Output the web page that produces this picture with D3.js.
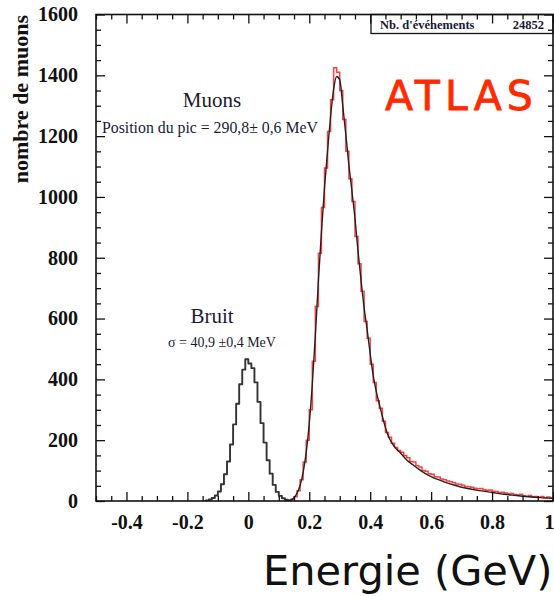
<!DOCTYPE html>
<html>
<head>
<meta charset="utf-8">
<script src="https://cdn.jsdelivr.net/npm/d3@7"></script>
<style>
  html, body { margin: 0; padding: 0; background: #fff; }
  svg { display: block; }
</style>
</head>
<body>
<svg id="chart" width="554" height="596"></svg>
<script>
// Histogram binning (GeV)
const binWidth = 0.01;

// Noise (pedestal) histogram, first bin edge and counts per bin
const noiseFirstEdge = -0.14;
const noiseCounts = [2, 5, 10, 18, 31, 55, 88, 130, 186, 252, 320, 384, 432, 466,
                     452, 437, 390, 326, 256, 192, 134, 90, 53, 30, 17, 9, 4, 2];

// Muon signal histogram, first bin edge and counts per bin
const muonFirstEdge = 0.13;
const muonCounts = [2, 6, 14, 34, 70, 128, 200, 300, 460, 640,
                    815, 965, 1095, 1215, 1320, 1425, 1410, 1350, 1255, 1150,
                    1060, 985, 870, 780, 690, 590, 535, 450, 390, 330,
                    305, 262, 225, 210, 190, 176, 166, 160, 150, 142,
                    130, 128, 116, 112, 100, 98, 90, 88, 80, 79,
                    72, 70, 66, 63, 60, 56, 55, 52, 48, 47,
                    45, 42, 40, 41, 37, 35, 36, 32, 31, 28,
                    29, 26, 24, 25, 21, 20, 22, 17, 16, 18,
                    14, 15, 12, 15, 11, 13, 10];

// Fitted muon spectrum: energy (GeV) and fitted counts
const fitEnergy = [0.12, 0.13, 0.14, 0.15, 0.16, 0.17, 0.18, 0.19, 0.20, 0.21,
                   0.22, 0.23, 0.24, 0.25, 0.26, 0.27, 0.28, 0.29, 0.30, 0.31,
                   0.32, 0.33, 0.34, 0.35, 0.36, 0.37, 0.38, 0.39, 0.40, 0.41,
                   0.42, 0.43, 0.44, 0.45, 0.46, 0.47, 0.48, 0.49, 0.50, 0.52,
                   0.54, 0.56, 0.58, 0.60, 0.64, 0.68, 0.72, 0.76, 0.80, 0.84,
                   0.88, 0.92, 0.96, 1.00];
const fitCounts = [0, 1, 4, 11, 26, 52, 95, 160, 255, 385,
                   545, 725, 885, 1030, 1150, 1265, 1355, 1396, 1385, 1300,
                   1205, 1105, 1020, 930, 822, 725, 636, 563, 484, 412,
                   360, 318, 278, 242, 212, 193, 178, 167, 157, 135,
                   119, 104, 91, 80, 64, 51, 41, 34, 28, 22,
                   18, 14, 11, 9];

// Axis ticks
const xMajorTicks = [-0.4, -0.2, 0, 0.2, 0.4, 0.6, 0.8, 1.0];
const xTickLabels = ["-0.4", "-0.2", "0", "0.2", "0.4", "0.6", "0.8", "1"];
const xMinorTicks = [-0.5, -0.45, -0.35, -0.3, -0.25, -0.15, -0.1, -0.05, 0.05, 0.1, 0.15,
                     0.25, 0.3, 0.35, 0.45, 0.5, 0.55, 0.65, 0.7, 0.75, 0.85, 0.9, 0.95];
const yMajorTicks = [0, 200, 400, 600, 800, 1000, 1200, 1400, 1600];
const yTickLabels = ["0", "200", "400", "600", "800", "1000", "1200", "1400", "1600"];
const yMinorTicks = [50, 100, 150, 250, 300, 350, 450, 500, 550, 650, 700, 750, 850, 900, 950,
                     1050, 1100, 1150, 1250, 1300, 1350, 1450, 1500, 1550];

const nEvents = "24852";

// ---------------------------------------------------------------
const svg = d3.select("#chart");
const plotLeft = 96, plotRight = 553, plotTop = 14.5, plotBottom = 501;

const x = d3.scaleLinear().domain([-0.5, 1.0]).range([plotLeft, plotRight]);
const y = d3.scaleLinear().domain([0, 1600]).range([plotBottom, plotTop]);

// clip region for plotted data
svg.append("defs").append("clipPath").attr("id", "plotClip")
  .append("rect").attr("x", plotLeft).attr("y", plotTop)
  .attr("width", plotRight - plotLeft).attr("height", plotBottom - plotTop);

// step outline of a histogram from its first edge and counts
function stepPoints(firstEdge, counts) {
  const pts = [[firstEdge, 0]];
  counts.forEach((c, i) => {
    const lo = firstEdge + i * binWidth, hi = lo + binWidth;
    pts.push([lo, c], [hi, c]);
  });
  pts.push([firstEdge + counts.length * binWidth, 0]);
  return pts;
}
const stepLine = d3.line().x(d => x(d[0])).y(d => y(d[1]));

const plot = svg.append("g").attr("clip-path", "url(#plotClip)");

// noise histogram
plot.append("path")
  .attr("d", stepLine(stepPoints(noiseFirstEdge, noiseCounts)))
  .attr("fill", "none").attr("stroke", "#333").attr("stroke-width", 1.9)
  .attr("stroke-linejoin", "round");

// muon histogram
plot.append("path")
  .attr("d", stepLine(stepPoints(muonFirstEdge, muonCounts)))
  .attr("fill", "none").attr("stroke", "#ff2a2a").attr("stroke-width", 1.5)
  .attr("stroke-opacity", 0.9);

// fitted curve
const fitLine = d3.line().x(d => x(d[0])).y(d => y(d[1])).curve(d3.curveMonotoneX);
plot.append("path")
  .attr("d", fitLine(fitEnergy.map((e, i) => [e, fitCounts[i]])))
  .attr("fill", "none").attr("stroke", "#222").attr("stroke-width", 1.4);

// ---------------------------------------------------------------
// axes with inward ticks on all four sides
function styleAxis(g) {
  g.select(".domain").remove();
  g.selectAll(".tick line").attr("stroke", "#111").attr("stroke-width", 1.3);
}
function styleLabels(g) {
  g.selectAll("text")
    .attr("font-size", 20).attr("font-weight", "bold")
    .attr("fill", "#111").attr("font-family", "Liberation Serif, serif");
}

svg.append("g").attr("transform", `translate(0,${plotBottom})`)
  .call(d3.axisBottom(x).tickValues(xMajorTicks).tickSize(-9).tickPadding(14)
        .tickFormat((d, i) => xTickLabels[i]))
  .call(styleAxis).call(styleLabels)
  // the label at the right edge is kept inside the page
  .call(g => g.selectAll(".tick text").filter(d => d === 1.0)
        .attr("text-anchor", "end").attr("x", 1));
svg.append("g").attr("transform", `translate(0,${plotBottom})`)
  .call(d3.axisBottom(x).tickValues(xMinorTicks).tickSize(-5).tickFormat(""))
  .call(styleAxis);

svg.append("g").attr("transform", `translate(0,${plotTop})`)
  .call(d3.axisTop(x).tickValues(xMajorTicks).tickSize(-9).tickFormat(""))
  .call(styleAxis);
svg.append("g").attr("transform", `translate(0,${plotTop})`)
  .call(d3.axisTop(x).tickValues(xMinorTicks).tickSize(-5).tickFormat(""))
  .call(styleAxis);

svg.append("g").attr("transform", `translate(${plotLeft},0)`)
  .call(d3.axisLeft(y).tickValues(yMajorTicks).tickSize(-9).tickPadding(18)
        .tickFormat((d, i) => yTickLabels[i]))
  .call(styleAxis).call(styleLabels);
svg.append("g").attr("transform", `translate(${plotLeft},0)`)
  .call(d3.axisLeft(y).tickValues(yMinorTicks).tickSize(-5).tickFormat(""))
  .call(styleAxis);

svg.append("g").attr("transform", `translate(${plotRight},0)`)
  .call(d3.axisRight(y).tickValues(yMajorTicks).tickSize(-9).tickFormat(""))
  .call(styleAxis);
svg.append("g").attr("transform", `translate(${plotRight},0)`)
  .call(d3.axisRight(y).tickValues(yMinorTicks).tickSize(-5).tickFormat(""))
  .call(styleAxis);

// frame
svg.append("rect").attr("x", plotLeft).attr("y", plotTop)
  .attr("width", plotRight - plotLeft).attr("height", plotBottom - plotTop)
  .attr("fill", "none").attr("stroke", "#111").attr("stroke-width", 1.6);

// statistics box
svg.append("rect").attr("x", 371).attr("y", plotTop).attr("width", plotRight - 371).attr("height", 19)
  .attr("fill", "none").attr("stroke", "#111").attr("stroke-width", 1.3);
svg.append("text").attr("x", 380).attr("y", 28.5)
  .attr("font-family", "Liberation Serif, serif").attr("font-weight", "bold")
  .attr("font-size", 12.5).attr("fill", "#1a1a33").text("Nb. d'événements");
svg.append("text").attr("x", 544).attr("y", 28.5).attr("text-anchor", "end")
  .attr("font-family", "Liberation Serif, serif").attr("font-weight", "bold")
  .attr("font-size", 12.5).attr("fill", "#1a1a33").text(nEvents);

// y axis title
svg.append("text")
  .attr("transform", "translate(28,15) rotate(-90)")
  .attr("text-anchor", "end")
  .attr("font-family", "Liberation Serif, serif").attr("font-weight", "bold")
  .attr("font-size", 22).attr("fill", "#111").text("nombre de muons");

// annotations
const ann = svg.append("g").attr("font-family", "Liberation Serif, serif").attr("fill", "#1a1a33");
ann.append("text").attr("x", 212).attr("y", 107).attr("text-anchor", "middle")
  .attr("font-size", 21).text("Muons");
ann.append("text").attr("x", 102).attr("y", 133)
  .attr("font-size", 15.8).text("Position du pic = 290,8± 0,6 MeV");
ann.append("text").attr("x", 212).attr("y", 323).attr("text-anchor", "middle")
  .attr("font-size", 21).text("Bruit");
ann.append("text").attr("x", 168).attr("y", 347)
  .attr("font-size", 14).text("σ = 40,9 ±0,4 MeV");

// experiment tag
svg.append("text").attr("x", 385).attr("y", 110)
  .attr("font-family", "DejaVu Sans, sans-serif").attr("font-size", 41)
  .attr("letter-spacing", 5).attr("fill", "#ff2a00")
  .attr("stroke", "#ff2a00").attr("stroke-width", 0.8).text("ATLAS");

// x axis title
svg.append("text").attr("x", 263).attr("y", 585)
  .attr("font-family", "DejaVu Sans, sans-serif").attr("font-size", 41.5)
  .attr("fill", "#111").text("Energie (GeV)");
</script>
</body>
</html>
